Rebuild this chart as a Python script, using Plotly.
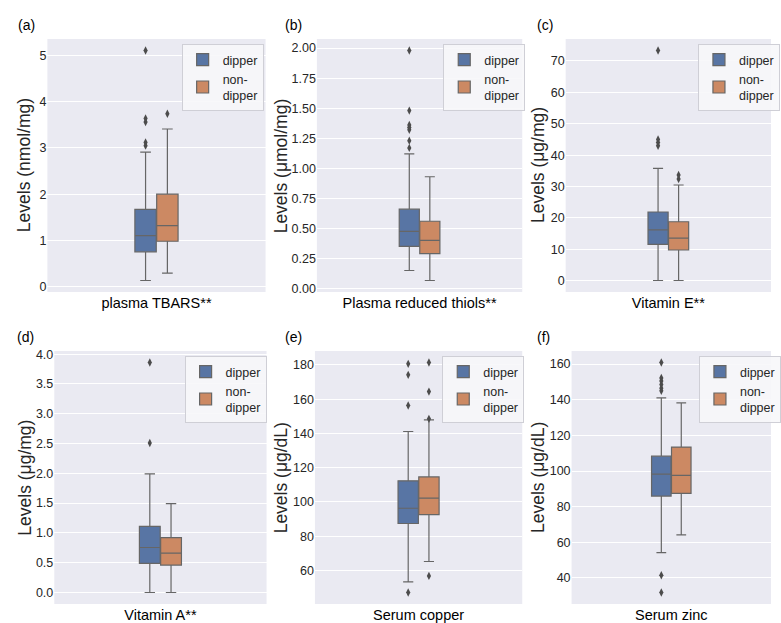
import plotly.graph_objects as go

# ---------------- data ----------------
categories = ["plasma TBARS**", "Plasma reduced thiols**", "Vitamin E**",
              "Vitamin A**", "Serum copper", "Serum zinc"]
y_titles = ["Levels (nmol/mg)", "Levels (\u03bcmol/mg)", "Levels (\u03bcg/mg)",
            "Levels (\u03bcg/mg)", "Levels (\u03bcg/dL)", "Levels (\u03bcg/dL)"]
panel_labels = ["(a)", "(b)", "(c)", "(d)", "(e)", "(f)"]
y_dticks = [1, 0.25, 10, 0.5, 20, 20]
y_formats = ["d", ".2f", "d", ".1f", "d", "d"]
groups = ["dipper", "non-<br>dipper"]

dipper_lower = [0.13, 0.15, 0.1, 0.0, 53.3, 54.2]
dipper_q1 = [0.75, 0.35, 11.6, 0.49, 87.4, 85.9]
dipper_median = [1.10, 0.475, 16.2, 0.755, 96.3, 98.2]
dipper_q3 = [1.67, 0.66, 21.9, 1.11, 112.3, 108.3]
dipper_upper = [2.91, 1.12, 35.8, 1.99, 141.1, 141.0]
dipper_outliers = [
    [3.05, 3.12, 3.56, 3.64, 5.11],
    [1.17, 1.23, 1.32, 1.34, 1.36, 1.48, 1.98],
    [43.0, 44.0, 45.0, 73.3],
    [2.51, 3.86],
    [47.1, 156.3, 174.2, 180.6],
    [31.8, 41.5, 145.0, 146.5, 148.5, 150.5, 152.2, 160.9],
]

non_lower = [0.29, 0.067, 0.1, 0.0, 65.2, 64.1]
non_q1 = [0.98, 0.29, 9.8, 0.46, 92.6, 87.4]
non_median = [1.32, 0.40, 13.6, 0.66, 102.2, 97.5]
non_q3 = [2.0, 0.56, 18.8, 0.92, 114.6, 113.4]
non_upper = [3.41, 0.93, 30.5, 1.49, 147.9, 138.2]
non_outliers = [
    [3.74],
    [],
    [32.4, 33.7],
    [],
    [56.8, 148.5, 164.4, 181.4],
    [],
]

# ---------------- layout constants (pixels) ----------------
W, H = 781, 623
PANEL_PX = [(48, 269, 39, 292), (321, 529, 39, 292), (573, 781, 39, 292),
            (55, 270, 351, 604), (319, 529, 351, 604), (579, 781, 351, 604)]
LETTER_XY = [(16, 25), (287, 25), (542, 25), (15, 337), (287, 337), (542, 337)]
YTITLE_X = [25, 285.5, 545.5, 24.5, 284.5, 544.5]
LEGEND_LEFT = [184, 449, 707, 187, 448, 708]
OFFSET = 0.05
BOX_W = 0.098
COLORS = ["#5875a4", "#cc8963"]
EDGE = "#666666"
FLIER = "#4c4c4c"
FONT = "Liberation Sans, Arial, sans-serif"

fig = go.Figure()
layout = dict(
    width=W, height=H,
    margin=dict(l=0, r=0, t=0, b=0),
    paper_bgcolor="white",
    plot_bgcolor="#EAEAF2",
    font=dict(family=FONT, color="#262626"),
    boxmode="overlay",
    template="none",
    annotations=[],
)

for i in range(6):
    s = "" if i == 0 else str(i + 1)
    leg = "legend" if i == 0 else "legend" + s
    l, r, t, b = PANEL_PX[i]
    stats = [
        (dipper_lower[i], dipper_q1[i], dipper_median[i], dipper_q3[i], dipper_upper[i], dipper_outliers[i]),
        (non_lower[i], non_q1[i], non_median[i], non_q3[i], non_upper[i], non_outliers[i]),
    ]
    allvals = []
    for g, (lo, q1, med, q3, up, outs) in enumerate(stats):
        pos = -OFFSET if g == 0 else OFFSET
        allvals += [lo, up] + list(outs)
        fig.add_trace(go.Box(
            x=[pos], q1=[q1], median=[med], q3=[q3],
            lowerfence=[lo], upperfence=[up],
            orientation="v", width=BOX_W, whiskerwidth=0.5,
            fillcolor=COLORS[g], line=dict(color=EDGE, width=1.2),
            boxpoints=False, name=groups[g], legend=leg,
            xaxis="x" + s, yaxis="y" + s, hoverinfo="skip",
        ))
        if outs:
            fig.add_trace(go.Scatter(
                x=[pos] * len(outs), y=outs, mode="markers",
                marker=dict(symbol="diamond-tall", size=6, color=FLIER),
                showlegend=False, xaxis="x" + s, yaxis="y" + s, hoverinfo="skip",
            ))
    lo_v, hi_v = min(allvals), max(allvals)
    pad = 0.05 * (hi_v - lo_v)
    layout["xaxis" + s] = dict(
        domain=[l / W, r / W], range=[-0.5, 0.5], anchor="y" + s,
        tickvals=[0], ticktext=[categories[i]], showgrid=False, zeroline=False,
        showline=False, ticks="", tickfont=dict(size=14.5, color="black", family=FONT),
    )
    layout["yaxis" + s] = dict(
        domain=[1 - b / H, 1 - t / H], range=[lo_v - pad, hi_v + pad], anchor="x" + s,
        dtick=y_dticks[i], tickformat=y_formats[i], showgrid=True, gridcolor="white",
        gridwidth=1, zeroline=False, showline=False, ticks="",
        tickfont=dict(size=12.5, color="#262626", family=FONT),
    )
    layout[leg] = dict(
        x=LEGEND_LEFT[i] / W, y=1 - (t + 5) / H, xanchor="left", yanchor="top",
        bgcolor="rgba(247,247,250,0.9)", bordercolor="#cfcfd6", borderwidth=1,
        font=dict(size=12.5, color="#262626", family=FONT), tracegroupgap=2,
        itemwidth=30,
    )
    layout["annotations"].append(dict(
        text=panel_labels[i], x=LETTER_XY[i][0] / W, y=1 - LETTER_XY[i][1] / H,
        xref="paper", yref="paper", xanchor="left", yanchor="middle",
        showarrow=False, font=dict(size=14, color="black", family=FONT),
    ))
    layout["annotations"].append(dict(
        text=y_titles[i], x=YTITLE_X[i] / W, y=1 - ((t + b) / 2) / H,
        xref="paper", yref="paper", xanchor="center", yanchor="middle",
        textangle=-90, showarrow=False, font=dict(size=17.5, color="#262626", family=FONT),
    ))

fig.update_layout(**layout)
fig.write_html(
    "out.html",
    config={"displayModeBar": False},
    post_script="document.body.style.margin='0px';document.body.style.padding='0px';",
)
